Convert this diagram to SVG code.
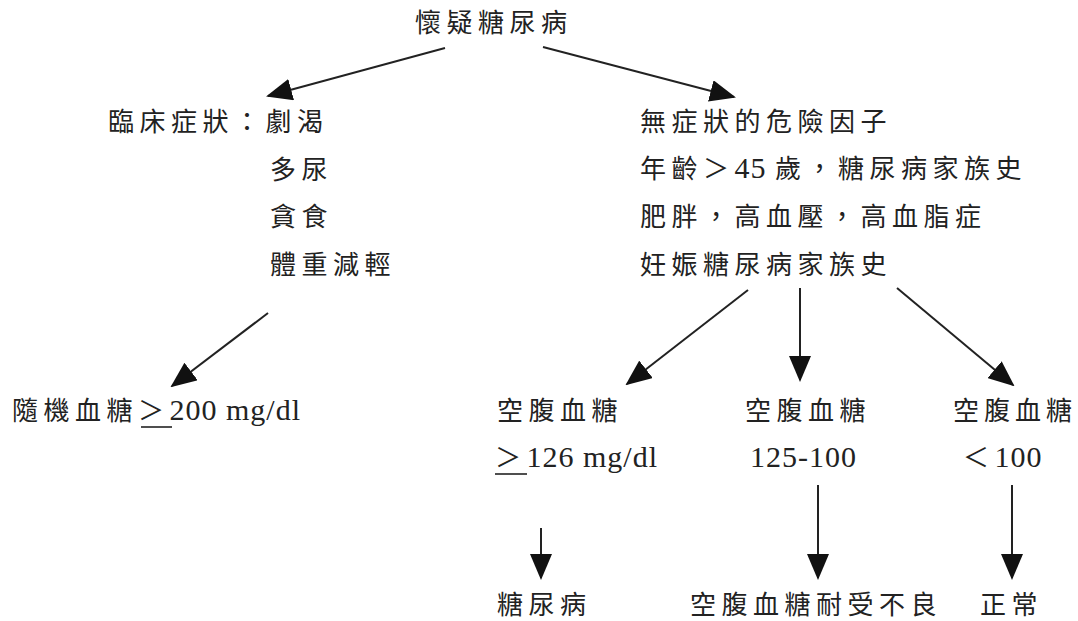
<svg xmlns="http://www.w3.org/2000/svg" width="1078" height="621" viewBox="0 0 1078 621">
  <style>
    .t { font-family: "Liberation Serif", "Noto Sans CJK TC", serif; font-size: 26px; letter-spacing: 5.5px; fill: #222; }
    .n { font-family: "Liberation Serif", serif; font-size: 30px; letter-spacing: 1px; }
    .c { stroke: #222; stroke-width: 2; fill: none; marker-end: url(#ah); }
    .u { stroke: #222; stroke-width: 1.6; }
  </style>
  <defs>
    <marker id="ah" markerUnits="userSpaceOnUse" markerWidth="26" markerHeight="22" viewBox="0 0 26 22" refX="24" refY="11" orient="auto">
      <path d="M0,0 L26,11 L0,22 Z" fill="#111"/>
    </marker>
  </defs>

  <rect width="1078" height="621" fill="#fff"/>

  <g id="root"><text class="t" x="415" y="32">懷疑糖尿病</text></g>

  <g id="symptoms">
    <text class="t" x="108" y="131">臨床症狀：劇渴</text>
    <text class="t" x="270" y="179">多尿</text>
    <text class="t" x="270" y="226">貪食</text>
    <text class="t" x="270" y="274">體重減輕</text>
  </g>

  <g id="risk">
    <text class="t" x="640" y="131">無症狀的危險因子</text>
    <text class="t" x="640" y="178">年齡＞<tspan class="n">45 </tspan>歲，糖尿病家族史</text>
    <text class="t" x="640" y="226">肥胖，高血壓，高血脂症</text>
    <text class="t" x="640" y="274">妊娠糖尿病家族史</text>
  </g>

  <g id="random">
    <text class="t" x="12" y="420">隨機血糖＞<tspan class="n">200 mg/dl</tspan></text>
    <line class="u" x1="141" y1="427" x2="172" y2="427"/>
  </g>

  <g id="fpg-high">
    <text class="t" x="497" y="420">空腹血糖</text>
    <text class="t" x="495" y="467">＞<tspan class="n">126 mg/dl</tspan></text>
    <line class="u" x1="495" y1="474" x2="527" y2="474"/>
  </g>

  <g id="fpg-mid">
    <text class="t" x="745" y="420">空腹血糖</text>
    <text class="t n" x="750" y="467">125-100</text>
  </g>

  <g id="fpg-low">
    <text class="t" x="953" y="420" style="letter-spacing:5px">空腹血糖</text>
    <text class="t" x="963" y="467">＜<tspan class="n">100</tspan></text>
  </g>

  <g id="dm"><text class="t" x="497" y="614">糖尿病</text></g>
  <g id="ifg"><text class="t" x="690" y="614">空腹血糖耐受不良</text></g>
  <g id="normal"><text class="t" x="980" y="614">正常</text></g>

  <g id="connectors">
    <line class="c" x1="445" y1="48" x2="268" y2="96"/>
    <line class="c" x1="543" y1="47" x2="734" y2="97"/>
    <line class="c" x1="268" y1="313" x2="172" y2="386"/>
    <line class="c" x1="748" y1="290" x2="627" y2="384"/>
    <line class="c" x1="800" y1="288" x2="800" y2="380"/>
    <line class="c" x1="897" y1="288" x2="1013" y2="385"/>
    <line class="c" x1="541" y1="528" x2="541" y2="578"/>
    <line class="c" x1="818" y1="485" x2="818" y2="578"/>
    <line class="c" x1="1012" y1="485" x2="1012" y2="578"/>
  </g>
</svg>
